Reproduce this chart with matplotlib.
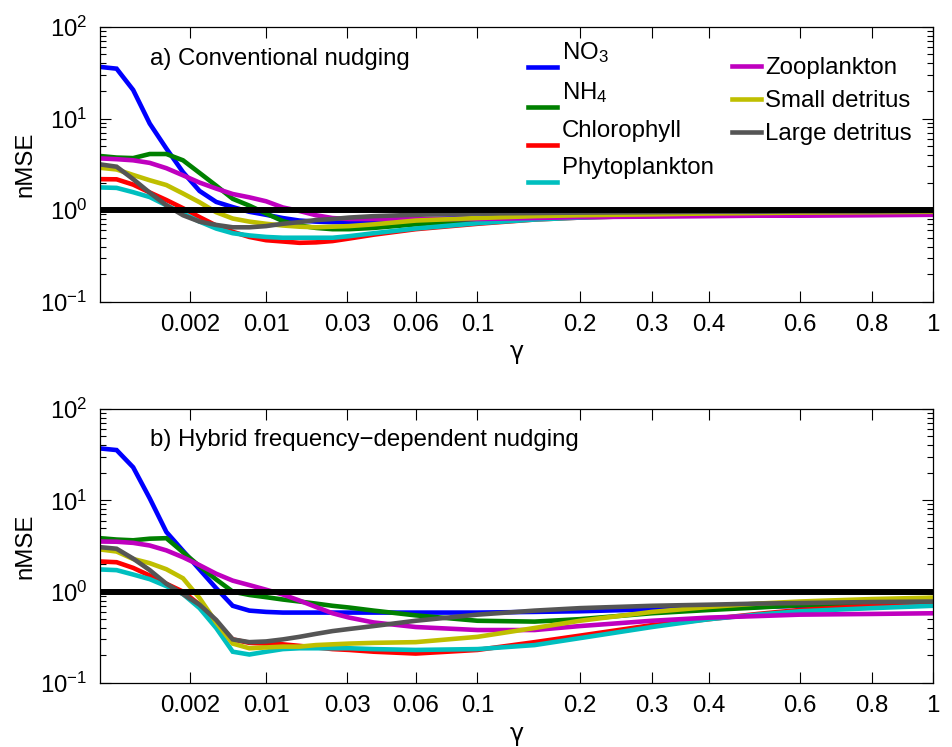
import numpy as np
import matplotlib
matplotlib.use("Agg")
import matplotlib.pyplot as plt
from matplotlib.lines import Line2D
from matplotlib.legend_handler import HandlerLine2D
from matplotlib.ticker import LogLocator, NullFormatter

plt.rcParams['font.family'] = ['Liberation Sans', 'DejaVu Sans']
plt.rcParams['mathtext.fontset'] = 'custom'
plt.rcParams['mathtext.rm'] = 'Liberation Sans'
plt.rcParams['mathtext.it'] = 'Liberation Sans:italic'
plt.rcParams['mathtext.bf'] = 'Liberation Sans:bold'

# nudging coefficient gamma (x values shared by all series)
gamma = [8.0e-6, 6.2e-5, 2.06e-4, 4.85e-4, 9.45e-4, 1.63e-3, 2.58e-3, 3.85e-3,
         5.47e-3, 7.5e-3, 0.01, 0.013, 0.0165, 0.0206, 0.0253, 0.0307, 0.04,
         0.06, 0.1, 0.15, 0.2, 0.3, 0.4, 0.5, 0.6, 0.8, 1.0]

series_names = ["NO$_3$", "NH$_4$", "Chlorophyll", "Phytoplankton",
                "Zooplankton", "Small detritus", "Large detritus"]
series_colors = ["#0000ff", "#008000", "#ff0000", "#00bfbf",
                 "#bf00bf", "#bfbf00", "#555555"]

# panel a) conventional nudging
a_no3 = [36.6, 35, 20.5, 8.8, 4.7, 2.6, 1.62, 1.23, 1.08, 0.96, 0.89, 0.82, 0.77,
         0.75, 0.74, 0.74, 0.76, 0.79, 0.83, 0.86, 0.88, 0.9, 0.92, 0.93, 0.94, 0.95, 0.96]
a_nh4 = [3.9, 3.75, 3.7, 4.1, 4.1, 3.5, 2.55, 1.85, 1.33, 1.12, 0.92, 0.76, 0.68,
         0.64, 0.62, 0.62, 0.64, 0.7, 0.78, 0.83, 0.86, 0.89, 0.91, 0.92, 0.93, 0.95, 0.96]
a_chl = [2.18, 2.17, 1.9, 1.56, 1.29, 1.05, 0.84, 0.68, 0.58, 0.51, 0.47, 0.455, 0.44,
         0.445, 0.46, 0.49, 0.54, 0.62, 0.71, 0.79, 0.83, 0.87, 0.9, 0.92, 0.93, 0.94, 0.95]
a_phy = [1.77, 1.75, 1.57, 1.39, 1.13, 0.92, 0.75, 0.63, 0.56, 0.53, 0.51, 0.5, 0.5,
         0.5, 0.5, 0.52, 0.56, 0.63, 0.72, 0.79, 0.83, 0.87, 0.9, 0.92, 0.93, 0.94, 0.95]
a_zoo = [3.67, 3.6, 3.5, 3.28, 2.87, 2.4, 2.0, 1.72, 1.5, 1.38, 1.25, 1.07, 0.98,
         0.88, 0.82, 0.8, 0.8, 0.8, 0.8, 0.82, 0.84, 0.85, 0.86, 0.87, 0.87, 0.88, 0.89]
a_sdet = [2.9, 2.78, 2.42, 2.12, 1.88, 1.52, 1.22, 0.95, 0.81, 0.75, 0.71, 0.68, 0.66,
          0.65, 0.66, 0.67, 0.7, 0.77, 0.82, 0.86, 0.88, 0.9, 0.92, 0.93, 0.94, 0.95, 0.96]
a_ldet = [3.16, 2.98, 2.18, 1.55, 1.13, 0.88, 0.75, 0.69, 0.65, 0.65, 0.67, 0.71, 0.74,
          0.78, 0.8, 0.83, 0.86, 0.89, 0.92, 0.93, 0.94, 0.95, 0.96, 0.96, 0.97, 0.97, 0.98]

# panel b) hybrid frequency-dependent nudging
b_no3 = [37, 35.5, 23, 10.5, 4.5, 2.8, 1.75, 1.09, 0.7, 0.62, 0.6, 0.59, 0.59,
         0.59, 0.59, 0.59, 0.59, 0.59, 0.59, 0.6, 0.61, 0.64, 0.66, 0.68, 0.7, 0.72, 0.74]
b_nh4 = [3.85, 3.72, 3.65, 3.8, 3.85, 2.7, 1.9, 1.36, 1.0, 0.92, 0.87, 0.82, 0.78,
         0.74, 0.7, 0.67, 0.62, 0.55, 0.48, 0.47, 0.5, 0.58, 0.63, 0.67, 0.71, 0.73, 0.75]
b_chl = [2.14, 2.1, 1.82, 1.5, 1.22, 1.0, 0.72, 0.46, 0.3, 0.275, 0.27, 0.265, 0.255,
         0.245, 0.235, 0.23, 0.22, 0.21, 0.23, 0.28, 0.33, 0.43, 0.5, 0.57, 0.63, 0.7, 0.74]
b_phy = [1.75, 1.72, 1.54, 1.37, 1.15, 0.94, 0.66, 0.4, 0.22, 0.205, 0.22, 0.235, 0.24,
         0.24, 0.24, 0.24, 0.235, 0.23, 0.235, 0.26, 0.31, 0.41, 0.5, 0.56, 0.61, 0.66, 0.7]
b_zoo = [3.54, 3.52, 3.42, 3.2, 2.83, 2.38, 1.95, 1.57, 1.32, 1.18, 1.05, 0.93, 0.8,
         0.68, 0.58, 0.52, 0.46, 0.41, 0.38, 0.38, 0.42, 0.48, 0.52, 0.54, 0.56, 0.57, 0.58]
b_sdet = [2.9, 2.75, 2.28, 2.05, 1.76, 1.4, 0.85, 0.46, 0.27, 0.24, 0.245, 0.25, 0.25,
          0.26, 0.265, 0.27, 0.275, 0.28, 0.32, 0.4, 0.48, 0.6, 0.68, 0.74, 0.78, 0.83, 0.86]
b_ldet = [3.07, 2.95, 2.3, 1.72, 1.22, 0.94, 0.72, 0.49, 0.3, 0.28, 0.285, 0.3, 0.32,
          0.345, 0.37, 0.39, 0.42, 0.48, 0.56, 0.62, 0.66, 0.7, 0.72, 0.74, 0.75, 0.77, 0.78]

panel_a = [a_no3, a_nh4, a_chl, a_phy, a_zoo, a_sdet, a_ldet]
panel_b = [b_no3, b_nh4, b_chl, b_phy, b_zoo, b_sdet, b_ldet]

xticks = [0.002, 0.01, 0.03, 0.06, 0.1, 0.2, 0.3, 0.4, 0.6, 0.8, 1]
xticklabels = ["0.002", "0.01", "0.03", "0.06", "0.1", "0.2", "0.3", "0.4", "0.6", "0.8", "1"]
titles = ["a) Conventional nudging", "b) Hybrid frequency\u2212dependent nudging"]

FS = 17.3

fig = plt.figure(figsize=(9.52, 7.47), dpi=100)
ax_a = fig.add_axes([0.105, 0.596, 0.875, 0.368])
ax_b = fig.add_axes([0.105, 0.0857, 0.875, 0.3668])


def fwd(x):
    return np.cbrt(np.clip(x, 0, None))


def inv(y):
    return np.power(y, 3)


class LoweredLine(HandlerLine2D):
    """Legend handle drawn a little below the label's centre line."""
    def __init__(self, offset, **kw):
        super().__init__(**kw)
        self.offset = offset

    def create_artists(self, legend, orig_handle, xdescent, ydescent,
                       width, height, fontsize, trans):
        arts = super().create_artists(legend, orig_handle, xdescent, ydescent,
                                      width, height, fontsize, trans)
        for a in arts:
            if isinstance(a, Line2D):
                y = np.asarray(a.get_ydata(), dtype=float)
                a.set_ydata(y - self.offset)
        return arts


for ax, data, title in [(ax_a, panel_a, titles[0]), (ax_b, panel_b, titles[1])]:
    ax.set_xscale('function', functions=(fwd, inv))
    ax.set_yscale('log')
    for vals, col in zip(data, series_colors):
        ax.plot(gamma, vals, color=col, lw=3.3, solid_joinstyle='miter', zorder=2)
    ax.axhline(1.0, color='black', lw=4.3, zorder=3)
    ax.set_xlim(8e-6, 1.0)
    ax.set_ylim(0.1, 100)
    ax.set_xticks(xticks)
    ax.set_xticklabels(xticklabels)
    ax.xaxis.set_minor_locator(matplotlib.ticker.NullLocator())
    ax.yaxis.set_major_locator(LogLocator(base=10, numticks=10))
    ax.yaxis.set_minor_locator(LogLocator(base=10, subs=np.arange(2, 10), numticks=20))
    ax.yaxis.set_minor_formatter(NullFormatter())
    ax.tick_params(axis='both', which='both', direction='in', top=True, right=True,
                   labelsize=FS, width=0.8)
    ax.tick_params(axis='both', which='major', length=8)
    ax.tick_params(axis='both', which='minor', length=4.5)
    ax.tick_params(axis='x', pad=9)
    ax.tick_params(axis='y', pad=9)
    for sp in ax.spines.values():
        sp.set_linewidth(0.9)
    ax.set_xlabel("\u03b3", fontsize=FS, labelpad=3, family=['DejaVu Sans'])
    ax.set_ylabel("nMSE", fontsize=FS, labelpad=3)
    ax.text(0.06, 0.885, title, transform=ax.transAxes, fontsize=FS,
            ha='left', va='center')

handles = [Line2D([], [], color=c, lw=3.3) for c in series_colors]
low = LoweredLine(11.5)
leg1 = ax_a.legend(handles[:4], series_names[:4], loc='upper left',
                   bbox_to_anchor=(0.5, 0.995), frameon=False, fontsize=FS,
                   handlelength=1.2, handletextpad=0.2, labelspacing=0.63,
                   borderaxespad=0.1,
                   handler_map={h: low for h in handles[:4]})
ax_a.add_artist(leg1)
ax_a.legend(handles[4:], series_names[4:], loc='upper left',
            bbox_to_anchor=(0.742, 0.943), frameon=False, fontsize=FS,
            handlelength=1.2, handletextpad=0.15, labelspacing=0.46,
            borderaxespad=0.2)

fig.savefig("out.png", dpi=100)
